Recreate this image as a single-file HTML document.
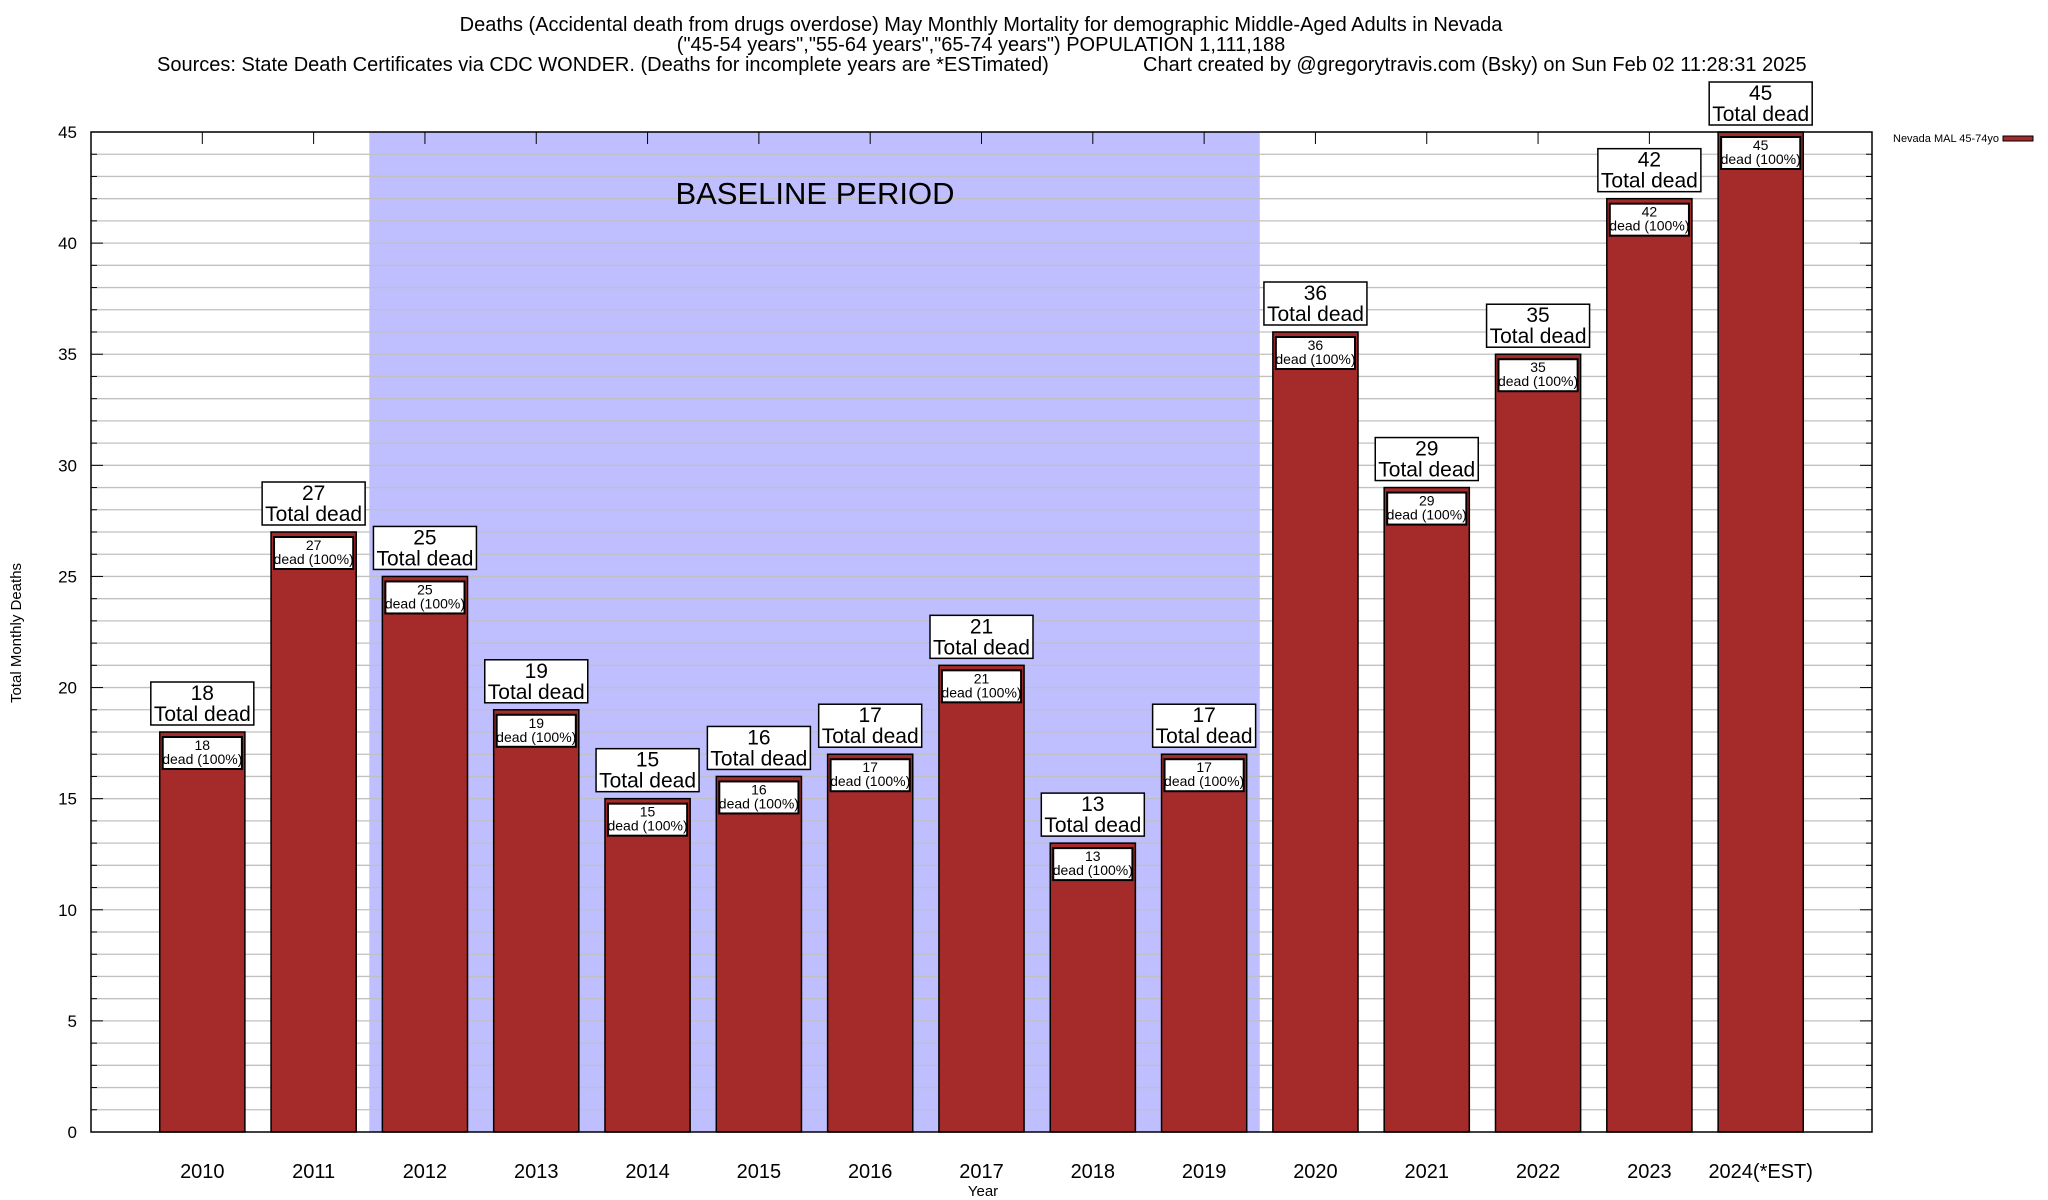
<!DOCTYPE html>
<html><head><meta charset="utf-8"><style>
html,body{margin:0;padding:0;background:#fff;}
svg{display:block;font-family:"Liberation Sans",Arial,sans-serif;}
</style></head><body>
<svg id="chart" width="2048" height="1200" viewBox="0 0 2048 1200">
<g font-size="20" fill="#000">
<text x="981" y="31" text-anchor="middle">Deaths (Accidental death from drugs overdose) May Monthly Mortality for demographic Middle-Aged Adults in Nevada</text>
<text x="981" y="51" text-anchor="middle">("45-54 years","55-64 years","65-74 years") POPULATION 1,111,188</text>
<text x="157" y="71">Sources: State Death Certificates via CDC WONDER. (Deaths for incomplete years are *ESTimated)</text>
<text x="1143" y="71">Chart created by @gregorytravis.com (Bsky) on Sun Feb 02 11:28:31 2025</text>
</g>
<g id="plot"></g>
</svg>
<script>
const categories=["2010","2011","2012","2013","2014","2015","2016","2017","2018","2019","2020","2021","2022","2023","2024(*EST)"];
const values=[18,27,25,19,15,16,17,21,13,17,36,29,35,42,45];
const yTicks=[0,5,10,15,20,25,30,35,40,45];
const baselineRange=[2.5,10.5];
const NS="http://www.w3.org/2000/svg";
const L=91,R=1872,T=132,B=1132,YMAX=45,NX=16;
const y=v=>B-(v/YMAX)*(B-T);
const x=i=>L+(i/NX)*(R-L);
const step=(R-L)/NX, bw=step*0.765;
const g=document.getElementById('plot');
function el(tag,attrs,parent){const e=document.createElementNS(NS,tag);for(const k in attrs)e.setAttribute(k,attrs[k]);(parent||g).appendChild(e);return e;}
function txt(s,attrs,parent){const e=el('text',attrs,parent);e.textContent=s;return e;}
const sh=el('rect',{x:x(baselineRange[0]),y:T,width:x(baselineRange[1])-x(baselineRange[0]),height:B-T,fill:'#bfbfff'});


for(let v=1;v<=YMAX;v++){
 const gl=el('line',{x1:L,x2:R,y1:y(v),y2:y(v),stroke:'#c0c0c0','stroke-width':1.3});
 
 
}
for(let v=0;v<=YMAX;v++){
 const len=(v%5===0)?12:6;
 el('line',{x1:L,x2:L+len,y1:y(v),y2:y(v),stroke:'#000','stroke-width':1});
 el('line',{x1:R,x2:R-len,y1:y(v),y2:y(v),stroke:'#000','stroke-width':1});
}
yTicks.forEach(v=>{
 const t=txt(String(v),{x:L-14,y:y(v)+6,'text-anchor':'end','font-size':17});
 
 
});
const bl=txt('BASELINE PERIOD',{x:815,y:204,'text-anchor':'middle','font-size':31});


categories.forEach((c,i)=>{
 const cx=x(i+1), v=values[i], top=y(v);
 el('line',{x1:cx,x2:cx,y1:T,y2:T+12,stroke:'#000','stroke-width':1});
 const b=el('rect',{x:cx-bw/2,y:top,width:bw,height:B-top,fill:'#a52a2a',stroke:'#000','stroke-width':1.5});
 
 
 const ib=el('rect',{x:cx-bw/2+3,y:top+5,width:bw-6,height:32,fill:'#fff',stroke:'#000','stroke-width':2});
 
 
 txt(String(v),{x:cx,y:top+18,'text-anchor':'middle','font-size':14});
 txt('dead (100%)',{x:cx,y:top+32,'text-anchor':'middle','font-size':14});
 const ob=el('rect',{x:cx-51.5,y:top-50,width:103,height:43,fill:'#fff',stroke:'#000','stroke-width':1.5});
 
 
 txt(String(v),{x:cx,y:top-32,'text-anchor':'middle','font-size':21});
 txt('Total dead',{x:cx,y:top-11,'text-anchor':'middle','font-size':21});
 const xl=txt(c,{x:cx,y:1178,'text-anchor':'middle','font-size':20});
 
 
});
const frame=el('rect',{x:L,y:T,width:R-L,height:B-T,fill:'none',stroke:'#000','stroke-width':1.5});


const xt=txt('Year',{x:983,y:1196,'text-anchor':'middle','font-size':15});


const yt=txt('Total Monthly Deaths',{x:0,y:0,'text-anchor':'middle','font-size':15,transform:'translate(21,633) rotate(-90)'});


const lg=el('g',{});


txt('Nevada MAL 45-74yo',{x:1893,y:142,'font-size':11},lg);
el('rect',{x:2003,y:136,width:30,height:5,fill:'#a52a2a',stroke:'#000','stroke-width':1},lg);
</script>
</body></html>
